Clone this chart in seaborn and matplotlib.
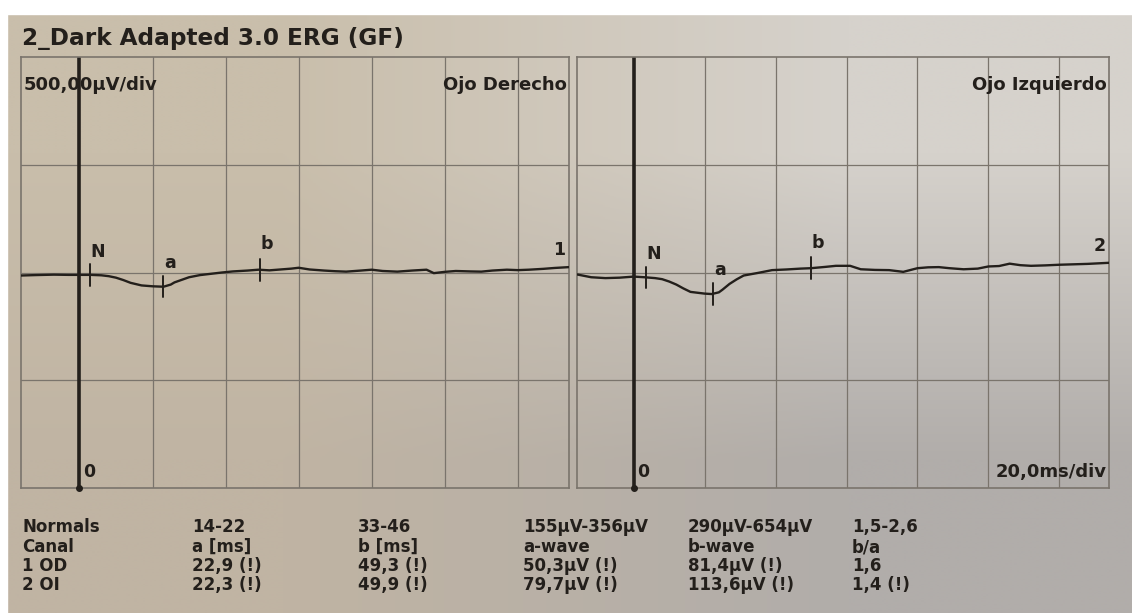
import numpy as np
import pandas as pd
import seaborn as sns
import matplotlib.pyplot as plt

# ---- data ----
title = "2_Dark Adapted 3.0 ERG (GF)"
y_scale_label = "500,00µV/div"
x_scale_label = "20,0ms/div"
eye_names = ["Ojo Derecho", "Ojo Izquierdo"]
channel_tags = ["1", "2"]

# right eye (OD), time in ms, amplitude in µV
t_od = [-16, -12, -7, -3, 0, 3, 6, 8, 10, 12, 14, 17, 20, 23, 25, 26, 28, 30, 33, 36, 39, 42,
        46, 49, 52, 55, 58, 60, 63, 67, 70, 73, 77, 80, 83, 87, 91, 95, 97, 100, 103, 107,
        110, 113, 117, 120, 123, 127, 130, 134]
uv_od = [-14, -12, -10, -11, -11, -11, -13, -17, -24, -35, -48, -60, -64, -66, -56, -46, -34, -22,
         -12, -6, 0, 5, 9, 13, 10, 14, 18, 22, 14, 9, 6, 4, 9, 13, 7, 4, 9, 13, -3, 3, 7, 5,
         4, 9, 13, 11, 13, 17, 21, 25]

# left eye (OI)
t_oi = [-16, -12, -8, -4, 0, 3, 6, 8, 10, 12, 14, 16, 18, 20, 22, 24, 25, 27, 29, 31, 35, 39,
        43, 47, 50, 54, 57, 61, 64, 68, 72, 76, 80, 83, 86, 89, 93, 97, 100, 103, 106, 109,
        112, 116, 120, 124, 128, 134]
uv_oi = [-9, -22, -26, -24, -19, -22, -26, -31, -42, -56, -74, -90, -94, -98, -100, -92, -80, -53,
         -32, -14, -2, 11, 14, 18, 20, 26, 31, 31, 15, 12, 11, 3, 20, 24, 25, 20, 15, 18, 28,
         30, 41, 34, 31, 33, 36, 38, 40, 45]

mark_names = ["N", "a", "b"]
mark_t_od = [2.9, 22.9, 49.3]
mark_t_oi = [3.5, 22.3, 49.9]

row_names = ["Normals", "Canal", "1 OD", "2 OI"]
normals = ["14-22", "33-46", "155µV-356µV", "290µV-654µV", "1,5-2,6"]
headers = ["a [ms]", "b [ms]", "a-wave", "b-wave", "b/a"]
od_vals = ["22,9 (!)", "49,3 (!)", "50,3µV (!)", "81,4µV (!)", "1,6"]
oi_vals = ["22,3 (!)", "49,9 (!)", "79,7µV (!)", "113,6µV (!)", "1,4 (!)"]

# ---- style ----
sns.set_theme(style="white")
plt.rcParams['font.family'] = ['DejaVu Sans']
plt.rcParams['font.weight'] = 'bold'
ink = '#231f1b'
grid_col = '#7a746c'

W, H = 1132, 613
fig = plt.figure(figsize=(W / 100, H / 100), dpi=100)

# photographed paper: soft gradient + white margin at top/left
bg = fig.add_axes([0, 0, 1, 1], zorder=-5)
corners = np.array([[[201, 190, 171], [214, 210, 204]],
                    [[192, 180, 163], [177, 173, 170]]]) / 255.0
bg.imshow(corners, extent=[0, W, H, 0], interpolation='bilinear', aspect='auto')
bg.fill_between([0, W], 0, 14, color='white')
bg.fill_between([0, 7], 0, H, color='white')
bg.set_xlim(0, W)
bg.set_ylim(H, 0)
bg.axis('off')

fig.text(22 / W, 1 - 38 / H, title, fontsize=16.7, color=ink, va='center', ha='left')


def draw_panel(rect, t, uv, mark_t, eye, tag):
    ax = fig.add_axes(rect)
    ax.set_facecolor('none')
    df = pd.DataFrame({'t': t, 'uv': uv})
    # grid
    for gx in range(20, 140, 20):
        ax.axvline(gx, color=grid_col, lw=0.9, zorder=1)
    for gy in (-500, 0, 500):
        ax.axhline(gy, color=grid_col, lw=0.9, zorder=1)
    ax.axvline(0, color=ink, lw=2.6, zorder=2)
    ax.plot([0], [-1000], 'o', color=ink, ms=4, clip_on=False, zorder=3)
    sns.lineplot(data=df, x='t', y='uv', ax=ax, color=ink, lw=1.7, zorder=4)

    mark_v = np.interp(mark_t, t, uv)
    offsets = {'N': 108, 'a': 112, 'b': 118}
    for name, mt, mv in zip(mark_names, mark_t, mark_v):
        ax.plot([mt, mt], [mv - 50, mv + 50], color=ink, lw=1.4, zorder=4)
        ax.text(mt + 2.0, mv + offsets[name], name, fontsize=12.5, color=ink,
                ha='center', va='center')
    ax.text(133, uv[-1] + 80, tag, fontsize=12.5, color=ink, ha='right', va='center')

    ax.text(133.3, 868, eye, fontsize=13, color=ink, ha='right', va='center')
    ax.text(1.0, -925, "0", fontsize=12.5, color=ink, ha='left', va='center')

    ax.set_xlim(-16, 134)
    ax.set_ylim(-1000, 1000)
    ax.set_xticks([])
    ax.set_yticks([])
    ax.set_xlabel('')
    ax.set_ylabel('')
    for s in ax.spines.values():
        s.set_color(grid_col)
        s.set_linewidth(1.2)
    return ax


top, bottom = 57, 488
ax_l = draw_panel([21 / W, 1 - bottom / H, 548 / W, (bottom - top) / H],
                  t_od, uv_od, mark_t_od, eye_names[0], channel_tags[0])
ax_r = draw_panel([577 / W, 1 - bottom / H, 532 / W, (bottom - top) / H],
                  t_oi, uv_oi, mark_t_oi, eye_names[1], channel_tags[1])

ax_l.text(-15.3, 868, y_scale_label, fontsize=13, color=ink, ha='left', va='center', zorder=6)
ax_r.text(133.3, -925, x_scale_label, fontsize=13, color=ink, ha='right', va='center')

# ---- results table under the traces ----
col_x = [22, 192, 358, 523, 688, 852]
row_y = [527, 547, 566, 585]
rows = [[row_names[0]] + normals,
        [row_names[1]] + headers,
        [row_names[2]] + od_vals,
        [row_names[3]] + oi_vals]
for ry, cells in zip(row_y, rows):
    for cx, cell in zip(col_x, cells):
        fig.text(cx / W, 1 - ry / H, cell, fontsize=12, color=ink, ha='left', va='center')

fig.savefig('out.png', dpi=100)
